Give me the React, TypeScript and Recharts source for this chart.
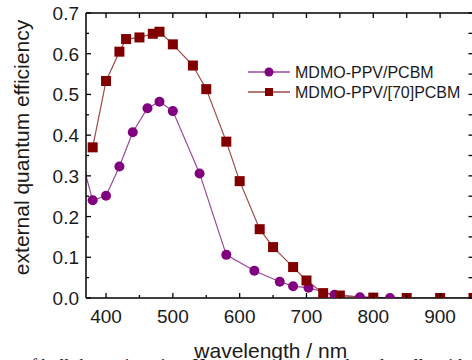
import { LineChart, Line, XAxis, YAxis, Legend } from "recharts";

// wavelength (nm) and EQE
const pcbmWavelength = [360, 380, 400, 420, 440, 462, 480, 500, 540, 580, 622, 660, 680, 703, 742, 780, 825];
const pcbmEqe = [0.36, 0.24, 0.251, 0.323, 0.407, 0.466, 0.482, 0.459, 0.306, 0.106, 0.067, 0.04, 0.029, 0.025, 0.008, 0.002, 0.0];

const pcbm70Wavelength = [380, 400, 420, 430, 450, 470, 480, 500, 530, 550, 580, 600, 630, 650, 680, 700, 725, 750, 800, 850, 900, 950];
const pcbm70Eqe = [0.37, 0.533, 0.605, 0.636, 0.64, 0.649, 0.654, 0.623, 0.571, 0.513, 0.384, 0.287, 0.169, 0.125, 0.076, 0.043, 0.012, 0.006, 0.001, 0.0, 0.0, 0.0];

const xTicks = [400, 450, 500, 550, 600, 650, 700, 750, 800, 850, 900, 950];
const yTicks = [0, 0.05, 0.1, 0.15, 0.2, 0.25, 0.3, 0.35, 0.4, 0.45, 0.5, 0.55, 0.6, 0.65, 0.7];

const seriesNames = ["MDMO-PPV/PCBM", "MDMO-PPV/[70]PCBM"];

const pcbmData = pcbmWavelength.map((wl, i) => ({ wl, eqe: pcbmEqe[i] }));
const pcbm70Data = pcbm70Wavelength.map((wl, i) => ({ wl, eqe: pcbm70Eqe[i] }));

const FONT = "'Liberation Sans', Arial, sans-serif";
const INK = "#1a1a1a";
const PURPLE = "#800080";
const MAROON = "#800000";

const isMajorX = (v: number) => v % 100 === 0;
const isMajorY = (v: number) => Math.abs(Math.round(v * 10) - v * 10) < 1e-6;

function BottomTick(props: any) {
  const { x, y, payload } = props;
  const major = isMajorX(payload.value);
  return (
    <g>
      <line x1={x} x2={x} y1={y} y2={y - (major ? 5 : 3)} stroke="#000" strokeWidth={1.3} />
      {major && (
        <text x={x} y={y + 25} textAnchor="middle" fontSize={19} fontFamily={FONT} fill={INK}>
          {payload.value}
        </text>
      )}
    </g>
  );
}

function TopTick(props: any) {
  const { x, y } = props;
  return <line x1={x} x2={x} y1={y} y2={y + 5} stroke="#000" strokeWidth={1.3} />;
}

function LeftTick(props: any) {
  const { x, y, payload } = props;
  const major = isMajorY(payload.value);
  return (
    <g>
      <line x1={x} x2={x + (major ? 5 : 3)} y1={y} y2={y} stroke="#000" strokeWidth={1.3} />
      {major && (
        <text x={x - 7} y={y + 7} textAnchor="end" fontSize={19} fontFamily={FONT} fill={INK}>
          {payload.value.toFixed(1)}
        </text>
      )}
    </g>
  );
}

function RightTick(props: any) {
  const { x, y } = props;
  return <line x1={x} x2={x - 5} y1={y} y2={y} stroke="#000" strokeWidth={1.3} />;
}

function SquareDot(props: any) {
  const { cx, cy, index } = props;
  if (cx == null || cy == null) return null;
  return <rect key={`sq-${index}`} x={cx - 5} y={cy - 5} width={10} height={10} fill={MAROON} />;
}

function renderLegend(props: any) {
  const items = props.payload || [];
  return (
    <svg width={224} height={42} style={{ display: "block" }}>
      {items.map((item: any, i: number) => {
        const cy = 10 + i * 20;
        const square = i === 1;
        return (
          <g key={item.value}>
            <line x1={0} x2={42} y1={cy} y2={cy} stroke={square ? "#a04848" : "#9a4a9a"} strokeWidth={1.3} />
            {square ? (
              <rect x={17} y={cy - 4} width={8} height={8} fill={MAROON} />
            ) : (
              <circle cx={21} cy={cy} r={4.5} fill={PURPLE} />
            )}
            <text x={47} y={cy + 5.5} fontSize={16} fontFamily={FONT} fill={INK}>
              {item.value}
            </text>
          </g>
        );
      })}
    </svg>
  );
}

function YLabel(props: any) {
  const { viewBox } = props;
  const cx = 21;
  const cy = viewBox.y + viewBox.height / 2 - 8;
  return (
    <text
      x={cx}
      y={cy}
      transform={`rotate(-90 ${cx} ${cy})`}
      textAnchor="middle"
      dominantBaseline="central"
      fontSize={21}
      fontFamily={FONT}
      fill={INK}
    >
      external quantum efficiency
    </text>
  );
}

function XLabel(props: any) {
  const { viewBox } = props;
  return (
    <text
      x={viewBox.x + viewBox.width / 2 - 9}
      y={viewBox.y + 60}
      textAnchor="middle"
      fontSize={21}
      fontFamily={FONT}
      fill={INK}
    >
      wavelength / nm
    </text>
  );
}

export default function App() {
  return (
    <div
      style={{
        position: "absolute",
        left: 0,
        top: 0,
        width: 472,
        height: 360,
        overflow: "hidden",
        background: "#fff",
      }}
    >
      <LineChart width={480} height={360} margin={{ top: 0, right: 0, bottom: 22, left: 0 }}>
        <XAxis
          xAxisId="bottom"
          dataKey="wl"
          type="number"
          domain={[370, 950]}
          ticks={xTicks}
          allowDataOverflow
          height={40}
          tickSize={0}
          tickMargin={0}
          tick={<BottomTick />}
          tickLine={false}
          axisLine={{ stroke: "#000", strokeWidth: 1.5 }}
          interval={0}
          label={<XLabel />}
        />
        <XAxis
          xAxisId="top"
          orientation="top"
          dataKey="wl"
          type="number"
          domain={[370, 950]}
          ticks={xTicks}
          allowDataOverflow
          height={13}
          tickSize={0}
          tickMargin={0}
          tick={<TopTick />}
          tickLine={false}
          axisLine={{ stroke: "#000", strokeWidth: 1.5 }}
          interval={0}
        />
        <YAxis
          yAxisId="left"
          type="number"
          domain={[0, 0.7]}
          ticks={yTicks}
          allowDataOverflow
          width={86}
          tickSize={0}
          tickMargin={0}
          tick={<LeftTick />}
          tickLine={false}
          axisLine={{ stroke: "#000", strokeWidth: 1.5 }}
          interval={0}
          label={<YLabel />}
        />
        <YAxis
          yAxisId="right"
          orientation="right"
          type="number"
          domain={[0, 0.7]}
          ticks={yTicks}
          allowDataOverflow
          width={6.5}
          tickSize={0}
          tickMargin={0}
          tick={<RightTick />}
          tickLine={false}
          axisLine={{ stroke: "#000", strokeWidth: 1.5 }}
          interval={0}
        />
        <Legend
          layout="vertical"
          align="center"
          verticalAlign="middle"
          content={renderLegend}
          wrapperStyle={{ left: 248, top: 62, width: 224, height: 42 }}
        />
        <Line
          xAxisId="bottom"
          yAxisId="left"
          data={pcbmData}
          dataKey="eqe"
          name={seriesNames[0]}
          type="linear"
          stroke="#9a4a9a"
          strokeWidth={1.2}
          dot={{ r: 5, fill: PURPLE, stroke: "none" }}
          activeDot={false}
          isAnimationActive={false}
        />
        <Line
          xAxisId="bottom"
          yAxisId="left"
          data={pcbm70Data}
          dataKey="eqe"
          name={seriesNames[1]}
          type="linear"
          stroke="#a04848"
          strokeWidth={1.2}
          dot={<SquareDot />}
          activeDot={false}
          isAnimationActive={false}
        />
      </LineChart>
      <div
        style={{
          position: "absolute",
          left: 22,
          top: 357,
          whiteSpace: "nowrap",
          fontFamily: "'Liberation Serif', 'Times New Roman', serif",
          fontSize: 18,
          lineHeight: "18px",
          color: "#111",
        }}
      >
        of bulk-heterojunction. Here we compare and study cells with MDMO-PPV
      </div>
    </div>
  );
}
